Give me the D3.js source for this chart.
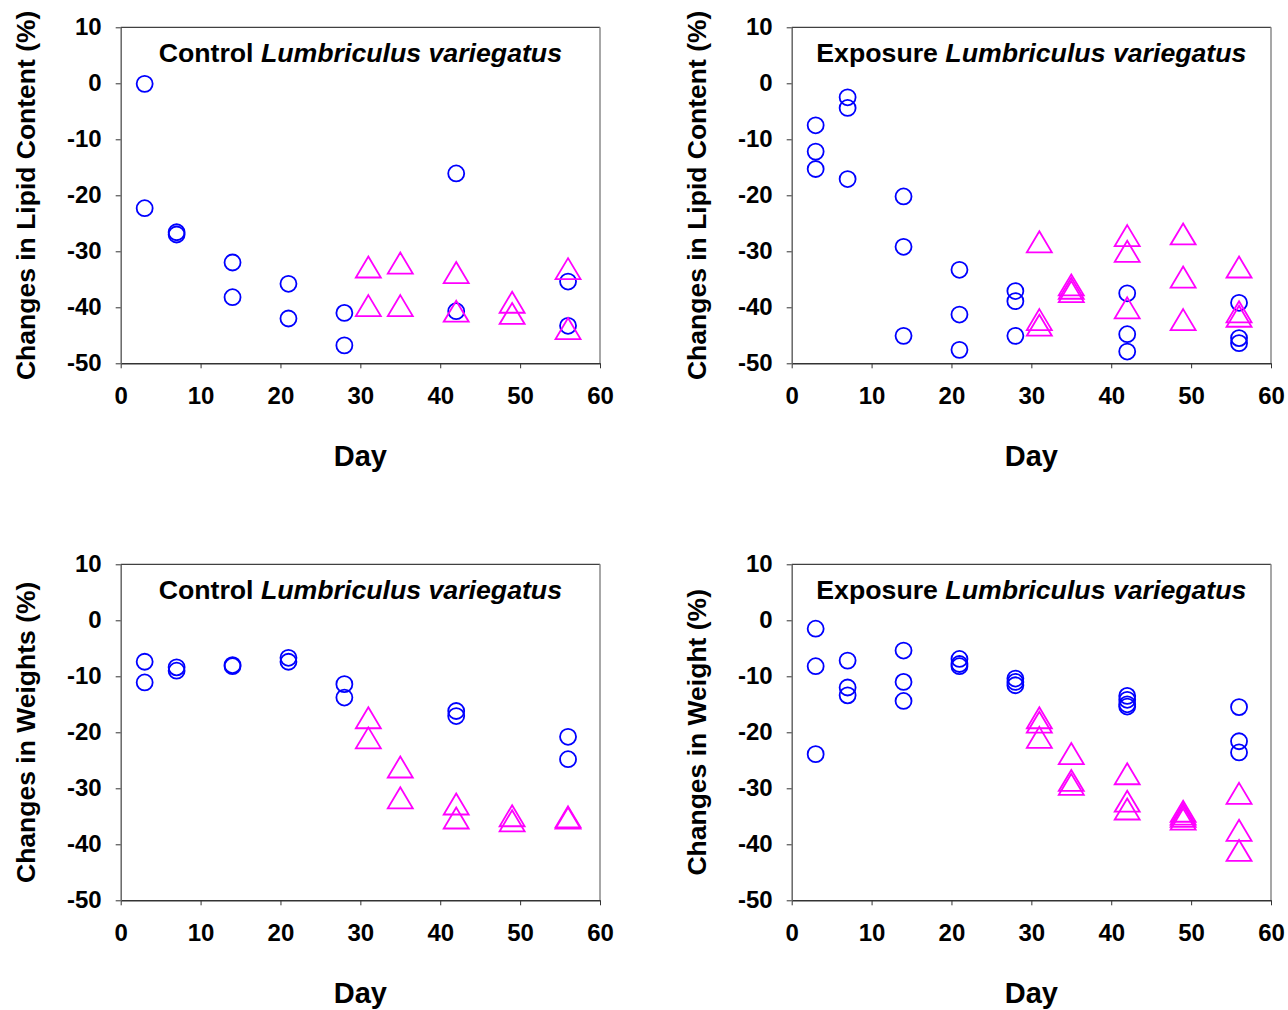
<!DOCTYPE html>
<html>
<head>
<meta charset="utf-8">
<script src="https://cdn.jsdelivr.net/npm/d3@7"></script>
<style>
  body { margin: 0; background: #fff; }
  svg { display: block; font-family: "Liberation Sans", Arial, sans-serif; }
  .tick text { font-weight: bold; font-size: 24px; fill: #000; }
</style>
</head>
<body>
<svg id="chart" width="1288" height="1010"></svg>
<script>
// x ticks / y ticks
var dayTicks = [0, 10, 20, 30, 40, 50, 60];
var pctTicks = [10, 0, -10, -20, -30, -40, -50];

// lipid content, control worms  [day, % change]
var lipidControlCircle = [[3, -0.1], [3, -22.3], [7, -26.6], [7, -27.0], [14, -32.0], [14, -38.2],
    [21, -35.8], [21, -42.0], [28, -41.0], [28, -46.8], [42, -16.1], [42, -40.7], [56, -35.4], [56, -43.3]];
var lipidControlTri = [[31, -32.8], [31, -39.7], [35, -32.1], [35, -39.7], [42, -33.8], [42, -40.7],
    [49, -39.1], [49, -41.1], [56, -33.1], [56, -43.8]];

// lipid content, exposed worms
var lipidExposureCircle = [[3, -7.5], [3, -12.2], [3, -15.3], [7, -2.5], [7, -4.4], [7, -17.1],
    [14, -20.2], [14, -29.2], [14, -45.1], [21, -33.3], [21, -41.3], [21, -47.6], [28, -37.1], [28, -38.9],
    [28, -45.1], [42, -37.5], [42, -44.8], [42, -47.9], [56, -39.2], [56, -45.5], [56, -46.4]];
var lipidExposureTri = [[31, -28.3], [31, -42.2], [31, -43.2], [35, -36.0], [35, -36.6], [35, -37.2],
    [42, -27.2], [42, -30.0], [42, -40.1], [49, -26.9], [49, -34.6], [49, -42.2], [56, -32.8], [56, -40.8], [56, -41.6]];

// weights, control worms
var weightControlCircle = [[3, -7.4], [3, -11.1], [7, -8.4], [7, -9.0], [14, -8.0], [14, -8.2],
    [21, -6.7], [21, -7.4], [28, -11.4], [28, -13.8], [42, -16.2], [42, -17.1], [56, -20.8], [56, -24.8]];
var weightControlTri = [[31, -17.4], [31, -21.0], [35, -26.2], [35, -31.7], [42, -32.8], [42, -35.3],
    [49, -34.9], [49, -35.8], [56, -35.1], [56, -35.3]];

// weights, exposed worms
var weightExposureCircle = [[3, -1.5], [3, -8.2], [3, -23.9], [7, -7.2], [7, -12.0], [7, -13.4],
    [14, -5.4], [14, -11.0], [14, -14.4], [21, -6.9], [21, -7.8], [21, -8.2], [28, -10.4], [28, -11.0],
    [28, -11.6], [42, -13.5], [42, -14.2], [42, -15.0], [42, -15.4], [56, -15.5], [56, -21.6], [56, -23.6]];
var weightExposureTri = [[31, -17.4], [31, -18.2], [31, -20.9], [35, -23.8], [35, -28.6], [35, -29.3],
    [42, -27.4], [42, -32.3], [42, -33.7], [49, -34.1], [49, -34.6], [49, -35.0], [49, -35.5],
    [56, -30.9], [56, -37.5], [56, -41.1]];

var panels = [
    { left: 120.7, top: 27.3, group: "Control", yTitle: "Changes in Lipid Content (%)", circles: lipidControlCircle, tris: lipidControlTri },
    { left: 791.7, top: 27.3, group: "Exposure", yTitle: "Changes in Lipid Content (%)", circles: lipidExposureCircle, tris: lipidExposureTri },
    { left: 120.7, top: 564.3, group: "Control", yTitle: "Changes in Weights (%)", circles: weightControlCircle, tris: weightControlTri },
    { left: 791.7, top: 564.3, group: "Exposure", yTitle: "Changes in Weight (%)", circles: weightExposureCircle, tris: weightExposureTri }
];

var plotW = 479.3, plotH = 336;
var svg = d3.select("#chart");

// plain hyphen for negatives, like the original
var tickFmt = function (d) { return String(d); };

// triangle marker, centred on its bounding box
var triW = 25, triH = 21;
var triPath = "M0," + (-triH / 2) + "L" + (triW / 2) + "," + (triH / 2) + "L" + (-triW / 2) + "," + (triH / 2) + "Z";

panels.forEach(function (p) {
    var x = d3.scaleLinear().domain([0, 60]).range([0, plotW]);
    var y = d3.scaleLinear().domain([-50, 10]).range([plotH, 0]);

    var g = svg.append("g").attr("transform", "translate(" + p.left + "," + p.top + ")");

    // frame: top + right are the plot-area border
    g.append("line").attr("x1", 0).attr("x2", plotW).attr("y1", 0).attr("y2", 0)
        .attr("stroke", "#404040").attr("stroke-width", 1.3);
    g.append("line").attr("x1", plotW).attr("x2", plotW).attr("y1", 0).attr("y2", plotH)
        .attr("stroke", "#8a8a8a").attr("stroke-width", 1.5);

    var xAxis = g.append("g").attr("transform", "translate(0," + plotH + ")")
        .call(d3.axisBottom(x).tickValues(dayTicks).tickFormat(tickFmt).tickSize(5).tickPadding(19).tickSizeOuter(0));
    var yAxis = g.append("g")
        .call(d3.axisLeft(y).tickValues(pctTicks).tickFormat(tickFmt).tickSize(5).tickPadding(14).tickSizeOuter(0));

    xAxis.select(".domain").attr("stroke", "#333").attr("stroke-width", 1.5);
    yAxis.select(".domain").attr("stroke", "#666").attr("stroke-width", 1.5);
    xAxis.selectAll(".tick line").attr("stroke", "#333");
    yAxis.selectAll(".tick line").attr("stroke", "#333");

    // axis titles
    g.append("text")
        .attr("x", plotW / 2).attr("y", plotH + 103)
        .attr("text-anchor", "middle")
        .style("font-weight", "bold").style("font-size", "29px")
        .text("Day");

    g.append("text")
        .attr("transform", "translate(-95," + (plotH / 2) + ") rotate(-90)")
        .attr("text-anchor", "middle").attr("dominant-baseline", "central")
        .style("font-weight", "bold").style("font-size", "26.5px")
        .text(p.yTitle);

    // panel title
    var t = g.append("text")
        .attr("x", plotW / 2).attr("y", 35)
        .attr("text-anchor", "middle")
        .style("font-weight", "bold").style("font-size", "26.7px");
    t.append("tspan").text(p.group + " ");
    t.append("tspan").style("font-style", "italic").text("Lumbriculus variegatus");

    // markers
    g.selectAll(".circ").data(p.circles).enter().append("circle")
        .attr("class", "circ")
        .attr("cx", function (d) { return x(d[0]); })
        .attr("cy", function (d) { return y(d[1]); })
        .attr("r", 8)
        .attr("fill", "none")
        .attr("stroke", "#0000ff")
        .attr("stroke-width", 1.8);

    g.selectAll(".tri").data(p.tris).enter().append("path")
        .attr("class", "tri")
        .attr("d", triPath)
        .attr("transform", function (d) { return "translate(" + x(d[0]) + "," + y(d[1]) + ")"; })
        .attr("fill", "none")
        .attr("stroke", "#ff00ff")
        .attr("stroke-width", 1.8);
});
</script>
</body>
</html>
